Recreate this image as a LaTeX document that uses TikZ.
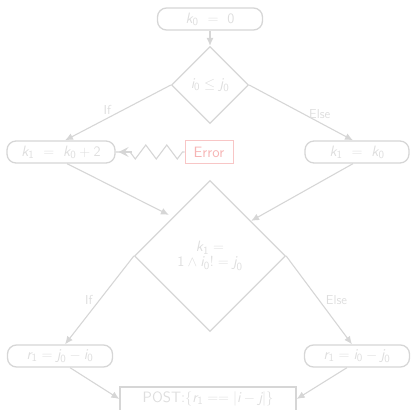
\documentclass[tikz,border=0pt]{standalone}
\usetikzlibrary{shapes.geometric,arrows.meta,decorations.pathmorphing,positioning}
\definecolor{lnc}{HTML}{D6D6D6}
\definecolor{txc}{HTML}{DEDEDE}
\definecolor{errl}{HTML}{F8C6C6}
\definecolor{errt}{HTML}{F6B4B4}
\newcommand{\mv}[1]{\mbox{\itshape #1}}
\newcommand{\md}[1]{\mathsf{#1}}
\tikzset{
  every node/.style={font=\sffamily\fontsize{15}{17}\selectfont, text=txc},
  proc/.style={draw=lnc, line width=1.3pt, rounded corners=9pt, minimum width=105pt, minimum height=22pt, inner sep=2pt},
  dec/.style={draw=lnc, line width=1.3pt, diamond, shape aspect=1, inner sep=0pt},
  flow/.style={draw=lnc, line width=1.1pt, -{Latex[length=8pt,width=7pt]}},
  lbl/.style={text=txc, font=\sffamily\fontsize{13}{15}\selectfont},
}
\begin{document}
\begin{tikzpicture}[x=1pt,y=1pt]
\useasboundingbox (0,0) rectangle (410,-410);
\node[proc] (start) at (210,-19) {$\mv{k}_\md{0}\ =\ \md{0}$};
\node[dec, minimum size=77pt] (d1) at (210,-85) {$\mv{i}_\md{0} \leq \mv{j}_\md{0}$};
\node[proc, minimum width=108pt] (lt) at (61,-152) {$\mv{k}_\md{1}\ =\ \mv{k}_\md{0}+\md{2}$};
\node[draw=errl, line width=0.9pt, minimum width=48pt, minimum height=23pt, inner sep=2pt, text=errt] (err) at (209,-152) {Error};
\node[proc, minimum width=104pt] (rt) at (357,-152) {$\mv{k}_\md{1}\ =\ \mv{k}_\md{0}$};
\node[dec, minimum size=151pt, align=center] (d2) at (210,-256) {$\mv{k}_\md{1} =$\\[-2pt]$\md{1} \wedge \mv{i}_\md{0} ! = \mv{j}_\md{0}$};
\node[proc] (bl) at (60,-356) {$\mv{r}_\md{1} = \mv{j}_\md{0} - \mv{i}_\md{0}$};
\node[proc] (br) at (357,-356) {$\mv{r}_\md{1} = \mv{i}_\md{0} - \mv{j}_\md{0}$};
\node[draw=lnc, line width=1.3pt, minimum width=176pt, minimum height=24pt, inner sep=2pt] (post) at (208,-399) {POST:$\{\mv{r}_\md{1} == |\mv{i}-\mv{j}|\}$};
\draw[flow] (start) -- (d1);
\draw[flow] (d1.west) -- node[lbl, above, pos=0.6] {If} ([xshift=4pt]lt.north);
\draw[flow] (d1.east) -- node[lbl, above, pos=0.68] {Else} ([xshift=-4pt]rt.north);
\draw[draw=lnc, line width=1.1pt, decorate, decoration={zigzag, segment length=21pt, amplitude=7pt, pre length=2pt, post length=14pt}] (err.west) -- (lt.east);
\draw[draw=lnc, line width=1.1pt, -{Stealth[length=10pt,width=10pt,inset=4pt]}] ([xshift=16pt]lt.east) -- ([xshift=3pt]lt.east);
\draw[flow] ([xshift=6pt]lt.south) -- ([shift={(-3pt,3pt)}]d2.north west);
\draw[flow] ([xshift=-4pt]rt.south) -- ([shift={(3pt,-3pt)}]d2.north east);
\draw[flow] (d2.west) -- node[lbl, left=3pt, pos=0.5] {If} ([xshift=5pt]bl.north);
\draw[flow] (d2.east) -- node[lbl, right=3pt, pos=0.5] {Else} ([xshift=-5pt]br.north);
\draw[flow] ([xshift=10pt]bl.south) -- (post.west);
\draw[flow] ([xshift=-10pt]br.south) -- (post.east);
\end{tikzpicture}
\end{document}
